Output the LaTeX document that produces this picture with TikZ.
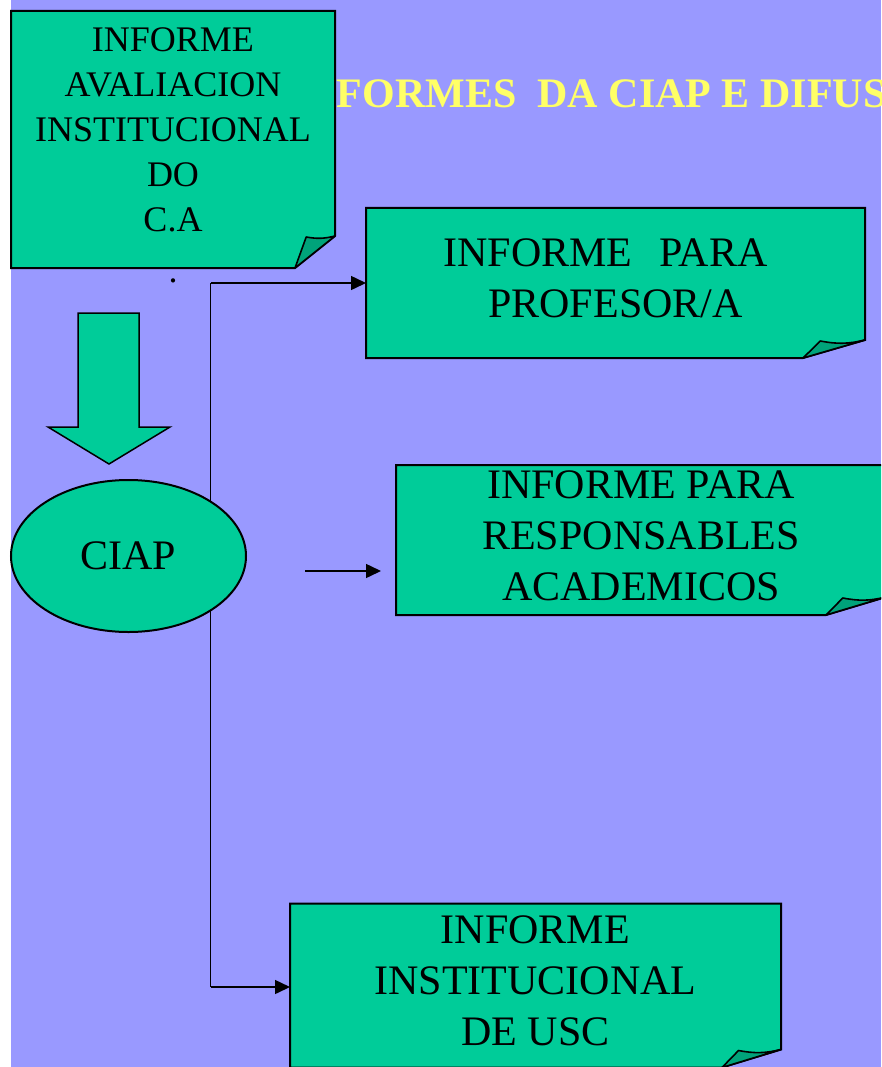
\documentclass[tikz,border=0pt]{standalone}
\usepackage{fontspec}
\setmainfont{Liberation Serif}
\usepackage{tikz}
\usetikzlibrary{positioning,calc,shapes.geometric,arrows.meta}

\definecolor{fondo}{HTML}{9999FF}
\definecolor{verde}{HTML}{00CC99}
\definecolor{verdeosc}{HTML}{00A37A}
\definecolor{amarelo}{HTML}{FFFF66}

% folded note: name, fold width, fold height
\newcommand{\foldnote}[3]{%
  \filldraw[notefill] (#1.north west) -- (#1.north east) -- ($(#1.south east)+(0,-#3)$)
    -- ($(#1.south east)+(-#2,0)$) -- (#1.south west) -- cycle;
  \filldraw[foldfill] ($(#1.south east)+(-#2,0)$) -- ($(#1.south east)+(-0.72*#2,-#3+1)$)
    to[bend right=12] ($(#1.south east)+(0,-#3)$) -- cycle;
}

\begin{document}
\begin{tikzpicture}[x=1pt, y=-1pt,
    box/.style={inner sep=0pt, outer sep=0pt},
    notefill/.style={fill=verde, draw=black, line width=2pt},
    foldfill/.style={fill=verdeosc, draw=black, line width=1.6pt, line join=round},
    txt/.style={align=center, inner sep=0pt, font=\fontsize{42}{51}\selectfont},
    flow/.style={line width=1.5pt, -{Triangle[length=15pt,width=14pt]}}]
    \useasboundingbox (0,0) rectangle (881,1067);
    \clip (0,0) rectangle (881,1067);
    \fill[white] (0,0) rectangle (881,1067);
    \fill[fondo] (11,0) rectangle (881,1067);

    \node[anchor=base west, inner sep=0pt, text=amarelo, font=\fontsize{42}{50}\selectfont\bfseries] (titulo) at (290,108) {INFORMES\ \ DA CIAP E DIFUSIÓN};

    % source report
    \node[box, minimum width=324pt, minimum height=257pt] (aval) at (173,139.5) {};
    \foldnote{aval}{40}{32}
    \node[txt, font=\fontsize{36}{45}\selectfont] (avaltxt) at ([yshift=-16pt]aval.center) {INFORME\\AVALIACION\\INSTITUCIONAL\\DO\\C.A\\[6pt].};

    \filldraw[notefill, line width=1.5pt] (78,313) -- (139,313) -- (139,427) -- (170,427) -- (109,464) -- (48,427) -- (78,427) -- cycle;

    % reports
    \node[box, minimum width=499pt, minimum height=150pt] (prof) at (615.5,283) {};
    \foldnote{prof}{62}{18}
    \node[txt] (proftxt) at ([yshift=5pt]prof.center) {INFORME\hspace{27pt}PARA\hspace*{20pt}\\PROFESOR/A};

    \node[box, minimum width=490pt, minimum height=150pt] (resp) at (641,540) {};
    \foldnote{resp}{60}{18}
    \node[txt] (resptxt) at ([yshift=4pt]resp.center) {INFORME PARA\\RESPONSABLES\\ACADEMICOS};

    \node[box, minimum width=491pt, minimum height=164pt] (inst) at (535.5,985.5) {};
    \foldnote{inst}{59}{18}
    \node[txt] (insttxt) at ([yshift=5pt]inst.center) {INFORME\\INSTITUCIONAL\\DE USC};

    % connectors
    \coordinate (trunktop) at (210.5,283);
    \coordinate (trunkbot) at (210.5,987);
    \coordinate (midstart) at (305,571);
    \coordinate (midend) at (381,571);
    \draw[line width=1.5pt] (trunktop) -- (trunkbot);
    \draw[flow] (trunktop) -- (trunktop -| prof.west);
    \draw[flow] (trunkbot) -- (trunkbot -| inst.west);
    \draw[flow] (midstart) -- (midend);

    \node[ellipse, draw, fill=verde, line width=2pt, minimum width=235pt, minimum height=152pt, inner sep=0pt, font=\fontsize{42}{51}\selectfont] (ciap) at (128.5,556) {CIAP};
\end{tikzpicture}
\end{document}
